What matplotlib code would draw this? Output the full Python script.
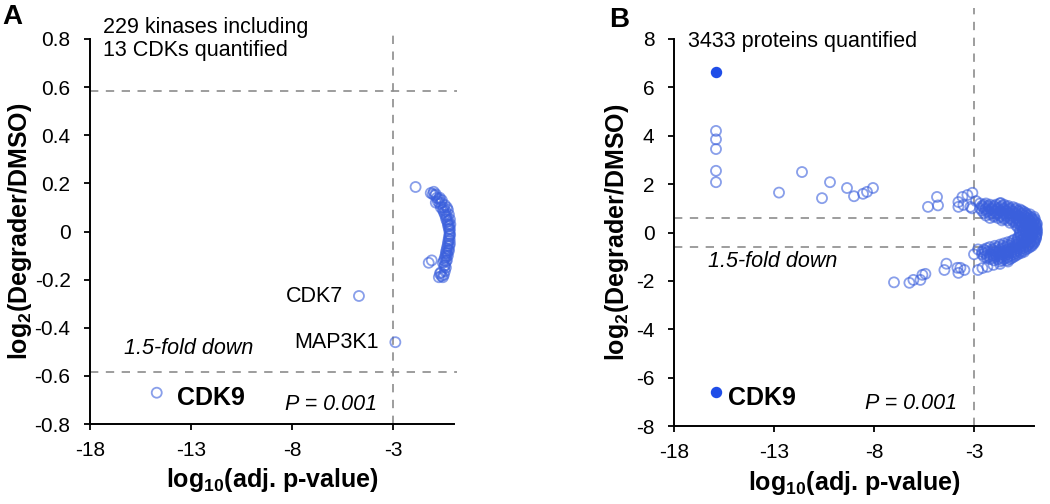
import numpy as np
import matplotlib.pyplot as plt

plt.rcParams['font.family'] = ['Liberation Sans', 'DejaVu Sans']
plt.rcParams['mathtext.fontset'] = 'custom'
plt.rcParams['mathtext.rm'] = 'Liberation Sans'
plt.rcParams['mathtext.bf'] = 'Liberation Sans:bold'
plt.rcParams['mathtext.it'] = 'Liberation Sans:italic'

# ---- panel A: kinases ----
a_cluster = [(-1.9, 0.185), (-1.15, 0.16), (-1.05, 0.155), (-0.95, 0.15), (-0.85, 0.14),
             (-0.8, 0.125), (-0.7, 0.115), (-0.65, 0.1), (-0.55, 0.09), (-0.5, 0.08),
             (-0.45, 0.07), (-0.4, 0.06), (-0.38, 0.05), (-0.33, 0.04), (-0.3, 0.03),
             (-0.28, 0.02), (-0.25, 0.01), (-0.22, 0.0), (-0.22, -0.01), (-0.24, -0.02),
             (-0.26, -0.03), (-0.28, -0.04), (-0.3, -0.05), (-0.32, -0.06), (-0.35, -0.07),
             (-0.38, -0.08), (-0.4, -0.09), (-0.42, -0.1), (-0.45, -0.11), (-0.5, -0.12),
             (-1.25, -0.13), (-1.1, -0.12), (-0.55, -0.13), (-0.45, -0.14), (-0.4, -0.15),
             (-0.65, -0.17), (-0.5, -0.18), (-0.75, -0.19), (-0.55, -0.19), (-0.35, -0.12),
             (-0.3, -0.1), (-0.25, -0.08), (-0.2, -0.05), (-0.18, 0.03), (-0.2, 0.05),
             (-0.25, 0.07), (-0.3, 0.09), (-0.35, 0.1), (-0.45, 0.11), (-0.6, 0.13),
             (-0.7, 0.14), (-0.9, 0.12),
             (-1.0, 0.165), (-0.9, 0.155), (-0.75, 0.135), (-0.62, 0.12), (-0.52, 0.1),
             (-0.42, 0.085), (-0.35, 0.065), (-0.28, 0.045), (-0.23, 0.025), (-0.2, 0.01),
             (-0.19, -0.015), (-0.21, -0.035), (-0.23, -0.06), (-0.27, -0.075), (-0.33, -0.09),
             (-0.37, -0.105), (-0.4, -0.125), (-0.48, -0.145), (-0.45, -0.165), (-0.62, -0.185),
             (-0.7, -0.175)]
a_named = ['CDK7', 'MAP3K1', 'CDK9']
a_named_x = [-4.7, -2.9, -14.7]
a_named_y = [-0.268, -0.46, -0.67]
a_yticks = [-0.8, -0.6, -0.4, -0.2, 0, 0.2, 0.4, 0.6, 0.8]
a_ylabels = ['-0.8', '-0.6', '-0.4', '-0.2', '0', '0.2', '0.4', '0.6', '0.8']

# ---- panel B: whole proteome ----
b_column = [4.2, 3.85, 3.45, 2.55, 2.08]          # open points at x = -15.9
b_column_x = -15.9
b_filled_x = [-15.9, -15.9]
b_filled_y = [6.65, -6.6]
b_up = [(-12.75, 1.65), (-11.6, 2.5), (-10.6, 1.42), (-10.2, 2.08), (-9.35, 1.84),
        (-9.0, 1.5), (-8.55, 1.6), (-8.35, 1.68), (-8.05, 1.84),
        (-5.3, 1.06), (-4.85, 1.47), (-4.8, 1.12), (-3.78, 1.26), (-3.58, 1.47),
        (-3.33, 1.55), (-3.08, 1.64), (-3.53, 1.14), (-3.18, 1.06), (-3.78, 1.06),
        (-2.9, 1.3), (-3.1, 1.0), (-1.67, 1.22)]
b_down = [(-7.0, -2.06), (-6.23, -2.08), (-6.03, -1.96), (-5.68, -1.96), (-5.43, -1.71),
          (-5.58, -1.75), (-4.38, -1.29), (-4.48, -1.55), (-3.83, -1.46), (-3.68, -1.46),
          (-3.48, -1.55), (-3.78, -1.67), (-2.58, -1.47), (-2.33, -1.42), (-2.03, -1.34),
          (-2.8, -1.55), (-1.7, -1.3), (-3.0, -0.9), (-2.8, -0.7)]
b_core = [(-2.7, 1.2), (-2.4, 1.2), (-1.7, 1.2),
          (-2.6, 1.1), (-2.3, 1.1), (-2.0, 1.1), (-1.6, 1.1), (-1.3, 1.1),
          (-2.7, 1.0), (-2.4, 1.0), (-2.1, 1.0), (-1.8, 1.0), (-1.5, 1.0), (-1.2, 1.0), (-0.9, 1.0),
          (-2.6, 0.9), (-2.3, 0.9), (-2.0, 0.9), (-1.7, 0.9), (-1.4, 0.9), (-1.1, 0.9), (-0.8, 0.9), (-0.6, 0.9),
          (-2.5, 0.8), (-2.1, 0.8), (-1.8, 0.8), (-1.5, 0.8), (-1.2, 0.8), (-0.9, 0.8), (-0.6, 0.8), (-0.4, 0.8),
          (-2.4, 0.7), (-2.0, 0.7), (-1.7, 0.7), (-1.4, 0.7), (-1.1, 0.7), (-0.8, 0.7), (-0.5, 0.7), (-0.3, 0.7),
          (-2.2, 0.6), (-1.8, 0.6), (-1.5, 0.6), (-1.2, 0.6), (-0.9, 0.6), (-0.6, 0.6), (-0.3, 0.6), (-0.1, 0.6),
          (-1.6, 0.5), (-1.3, 0.5), (-1.0, 0.5), (-0.7, 0.5), (-0.4, 0.5), (-0.2, 0.5), (0.0, 0.5),
          (-1.2, 0.4), (-0.9, 0.4), (-0.6, 0.4), (-0.3, 0.4), (-0.1, 0.4), (0.1, 0.4),
          (-0.9, 0.3), (-0.6, 0.3), (-0.3, 0.3), (-0.1, 0.3), (0.1, 0.3),
          (-0.8, 0.2), (-0.5, 0.2), (-0.2, 0.2), (0.0, 0.2), (0.1, 0.2),
          (-0.7, 0.1), (-0.4, 0.1), (-0.1, 0.1), (0.1, 0.1),
          (-0.7, 0.0), (-0.4, 0.0), (-0.1, 0.0), (0.1, 0.0),
          (-0.7, -0.1), (-0.4, -0.1), (-0.1, -0.1), (0.1, -0.1),
          (-0.8, -0.2), (-0.5, -0.2), (-0.2, -0.2), (0.1, -0.2),
          (-1.0, -0.3), (-0.6, -0.3), (-0.3, -0.3), (0.0, -0.3),
          (-1.3, -0.4), (-0.9, -0.4), (-0.5, -0.4), (-0.2, -0.4), (0.0, -0.4),
          (-1.7, -0.5), (-1.3, -0.5), (-0.9, -0.5), (-0.6, -0.5), (-0.3, -0.5), (-0.1, -0.5),
          (-2.2, -0.6), (-1.8, -0.6), (-1.4, -0.6), (-1.0, -0.6), (-0.7, -0.6), (-0.4, -0.6), (-0.2, -0.6),
          (-2.5, -0.7), (-2.1, -0.7), (-1.7, -0.7), (-1.3, -0.7), (-1.0, -0.7), (-0.7, -0.7), (-0.4, -0.7),
          (-2.6, -0.8), (-2.3, -0.8), (-1.9, -0.8), (-1.6, -0.8), (-1.3, -0.8), (-1.0, -0.8), (-0.7, -0.8), (-0.5, -0.8),
          (-2.6, -0.9), (-2.2, -0.9), (-1.9, -0.9), (-1.6, -0.9), (-1.3, -0.9), (-1.0, -0.9), (-0.8, -0.9),
          (-2.5, -1.0), (-2.2, -1.0), (-1.9, -1.0), (-1.6, -1.0), (-1.3, -1.0), (-1.0, -1.0),
          (-2.2, -1.1), (-1.8, -1.1), (-1.5, -1.1), (-1.2, -1.1),
          (-1.7, -1.2), (-1.3, -1.2)]
b_core2 = [(-2.5, 1.15), (-2.2, 1.15), (-1.9, 1.15), (-1.5, 1.15),
           (-2.55, 1.05), (-2.25, 1.05), (-1.95, 1.05), (-1.65, 1.05), (-1.35, 1.05), (-1.05, 1.05),
           (-2.45, 0.95), (-2.15, 0.95), (-1.85, 0.95), (-1.55, 0.95), (-1.25, 0.95), (-0.95, 0.95), (-0.7, 0.95),
           (-2.35, 0.85), (-1.95, 0.85), (-1.65, 0.85), (-1.35, 0.85), (-1.05, 0.85), (-0.75, 0.85), (-0.5, 0.85),
           (-2.2, 0.75), (-1.85, 0.75), (-1.55, 0.75), (-1.25, 0.75), (-0.95, 0.75), (-0.65, 0.75), (-0.4, 0.75), (-0.2, 0.75),
           (-2.0, 0.65), (-1.65, 0.65), (-1.35, 0.65), (-1.05, 0.65), (-0.75, 0.65), (-0.45, 0.65), (-0.2, 0.65), (0.0, 0.65),
           (-1.5, 0.55), (-1.15, 0.55), (-0.85, 0.55), (-0.55, 0.55), (-0.3, 0.55), (-0.1, 0.55), (0.05, 0.55),
           (-1.05, 0.45), (-0.75, 0.45), (-0.45, 0.45), (-0.2, 0.45), (0.0, 0.45),
           (-0.75, 0.35), (-0.45, 0.35), (-0.2, 0.35), (0.0, 0.35), (0.15, 0.35),
           (-0.65, 0.25), (-0.35, 0.25), (-0.1, 0.25), (0.1, 0.25),
           (-0.55, 0.15), (-0.25, 0.15), (0.0, 0.15), (0.15, 0.15),
           (-0.55, 0.05), (-0.25, 0.05), (0.0, 0.05), (0.15, 0.05),
           (-0.55, -0.05), (-0.25, -0.05), (0.0, -0.05), (0.15, -0.05),
           (-0.65, -0.15), (-0.35, -0.15), (-0.1, -0.15), (0.1, -0.15),
           (-0.8, -0.25), (-0.45, -0.25), (-0.15, -0.25), (0.1, -0.25),
           (-1.1, -0.35), (-0.75, -0.35), (-0.4, -0.35), (-0.1, -0.35), (0.05, -0.35),
           (-1.5, -0.45), (-1.1, -0.45), (-0.75, -0.45), (-0.45, -0.45), (-0.2, -0.45), (0.0, -0.45),
           (-1.95, -0.55), (-1.55, -0.55), (-1.2, -0.55), (-0.85, -0.55), (-0.55, -0.55), (-0.3, -0.55), (-0.1, -0.55),
           (-2.35, -0.65), (-1.95, -0.65), (-1.55, -0.65), (-1.15, -0.65), (-0.85, -0.65), (-0.55, -0.65), (-0.3, -0.65),
           (-2.45, -0.75), (-2.05, -0.75), (-1.75, -0.75), (-1.45, -0.75), (-1.15, -0.75), (-0.85, -0.75), (-0.55, -0.75),
           (-2.45, -0.85), (-2.05, -0.85), (-1.75, -0.85), (-1.45, -0.85), (-1.15, -0.85), (-0.9, -0.85), (-0.65, -0.85),
           (-2.35, -0.95), (-2.05, -0.95), (-1.75, -0.95), (-1.45, -0.95), (-1.15, -0.95), (-0.9, -0.95),
           (-2.35, -1.05), (-2.0, -1.05), (-1.65, -1.05), (-1.35, -1.05), (-1.1, -1.05),
           (-2.0, -1.15), (-1.6, -1.15), (-1.35, -1.15)]
b_yticks = [-8, -6, -4, -2, 0, 2, 4, 6, 8]
b_ylabels = ['-8', '-6', '-4', '-2', '0', '2', '4', '6', '8']

xticks = [-18, -13, -8, -3]
xlabels = ['-18', '-13', '-8', '-3']
fc_cut = np.log2(1.5)

open_kw = dict(s=52, facecolors='none', edgecolors='#3a5fdc', linewidths=1.3,
               alpha=0.6, clip_on=False, zorder=3)
dash_kw = dict(color='#8c8c8c', lw=1.2, ls=(0, (5, 4.5)), clip_on=False, zorder=1)

W, H = 1050, 504
fig = plt.figure(figsize=(W / 100, H / 100), dpi=100)
axA = fig.add_axes([90 / W, 1 - 424 / H, 364 / W, 385 / H])
axB = fig.add_axes([674 / W, 1 - 426 / H, 360 / W, 387 / H])


def style(ax, ylim, yticks, ylabels):
    ax.set_xlim(-18, 0)
    ax.set_ylim(*ylim)
    for s in ['top', 'right']:
        ax.spines[s].set_visible(False)
    for s in ['left', 'bottom']:
        ax.spines[s].set_linewidth(1.4)
    ax.set_xticks(xticks)
    ax.set_xticklabels(xlabels)
    ax.set_yticks(yticks)
    ax.set_yticklabels(ylabels)
    ax.tick_params(axis='both', direction='out', length=4, width=1.3, labelsize=15)
    ax.tick_params(axis='x', pad=8)
    ax.tick_params(axis='y', pad=10)
    ax.set_xlabel(r'log$_{\mathbf{10}}$(adj. p-value)', fontsize=18, fontweight='bold')
    ax.set_ylabel(r'log$_{\mathbf{2}}$(Degrader/DMSO)', fontsize=18, fontweight='bold')
    ax.xaxis.set_label_coords(0.5, -0.11)


# panel A
style(axA, (-0.8, 0.8), a_yticks, a_ylabels)
axA.yaxis.set_label_coords(-0.155, 0.5)
axA.plot([-18, 0.15], [fc_cut, fc_cut], **dash_kw)
axA.plot([-18, 0.15], [-fc_cut, -fc_cut], **dash_kw)
axA.plot([-3, -3], [-0.8, 0.84], **dash_kw)
ax_x, ax_y = zip(*a_cluster)
axA.scatter(ax_x, ax_y, **open_kw)
axA.scatter(a_named_x, a_named_y, **open_kw)
axA.text(-5.47, -0.27, 'CDK7', ha='right', va='center', fontsize=15.5)
axA.text(-3.74, -0.46, 'MAP3K1', ha='right', va='center', fontsize=15.5)
axA.text(-13.7, -0.69, 'CDK9', ha='left', va='center', fontsize=18, fontweight='bold')
axA.text(-16.3, -0.485, '1.5-fold down', ha='left', va='center', fontsize=15.5, style='italic')
axA.text(-8.35, -0.72, 'P = 0.001', ha='left', va='center', fontsize=15.5, style='italic')
axA.text(-17.36, 0.80, '229 kinases including\n13 CDKs quantified', ha='left', va='center',
         fontsize=15.5, linespacing=1.1)
fig.text(12 / W, 1 - 17 / H, 'A', fontsize=20, fontweight='bold', ha='center', va='center')

# panel B
style(axB, (-8, 8), b_yticks, b_ylabels)
axB.yaxis.set_label_coords(-0.12, 0.5)
axB.plot([-18, 0.2], [fc_cut, fc_cut], **dash_kw)
axB.plot([-18, 0.2], [-fc_cut, -fc_cut], **dash_kw)
axB.plot([-3, -3], [-8, 9.3], **dash_kw)
for pts in (b_core, b_core2, b_up, b_down):
    bx, by = zip(*pts)
    axB.scatter(bx, by, **open_kw)
axB.scatter([b_column_x] * len(b_column), b_column, **open_kw)
axB.scatter(b_filled_x, b_filled_y, s=52, color='#1f4de8', edgecolors='#1f4de8',
            linewidths=1.0, zorder=4, clip_on=False)
axB.text(-15.3, -6.85, 'CDK9', ha='left', va='center', fontsize=18, fontweight='bold')
axB.text(-16.3, -1.2, '1.5-fold down', ha='left', va='center', fontsize=15.5, style='italic')
axB.text(-8.45, -7.05, 'P = 0.001', ha='left', va='center', fontsize=15.5, style='italic')
axB.text(-17.3, 7.88, '3433 proteins quantified', ha='left', va='center', fontsize=15.5)
fig.text(619 / W, 1 - 20 / H, 'B', fontsize=20, fontweight='bold', ha='center', va='center')

fig.savefig('out.png', dpi=100)
